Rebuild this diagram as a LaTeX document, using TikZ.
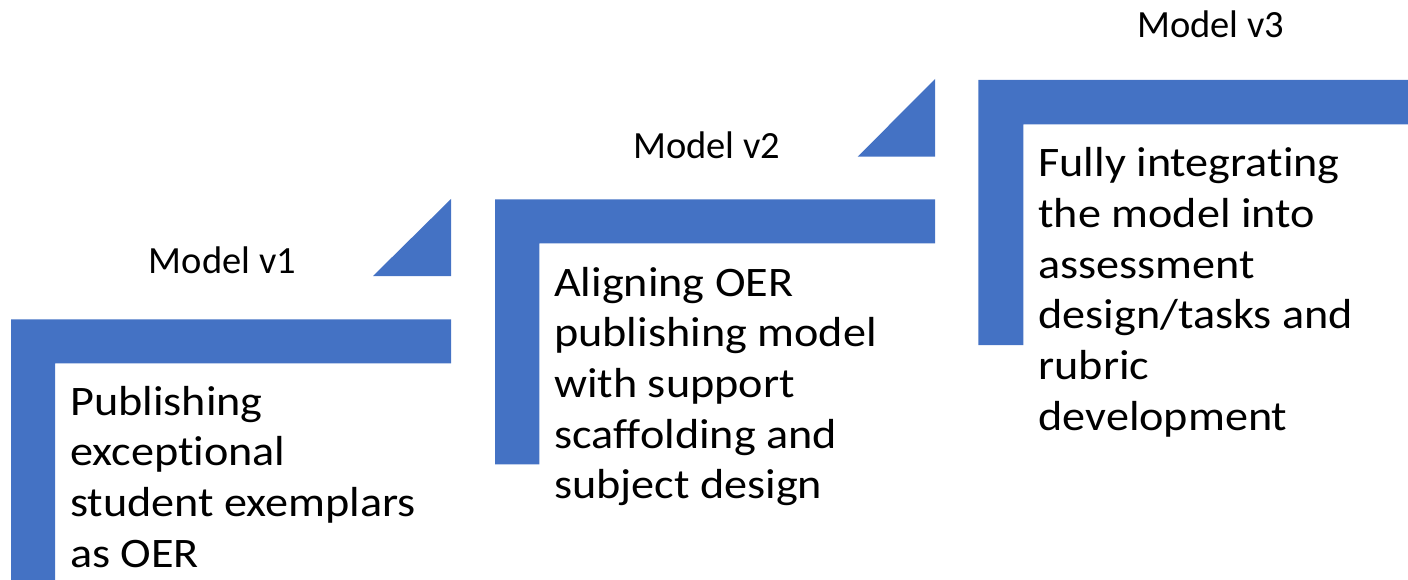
\documentclass[tikz,border=0pt]{standalone}
\usepackage{fontspec}
\setmainfont{Carlito}[Ligatures=NoCommon]
\newfontfamily\bodyfont{Carlito}[FakeStretch=1.1,Ligatures=NoCommon]
\definecolor{stepblue}{HTML}{4472C4}
\begin{document}
\begin{tikzpicture}[x=1pt,y=-1pt,
  stepfill/.style={fill=stepblue,draw=none},
  levellabel/.style={anchor=base,inner sep=0pt,font=\fontsize{38.5}{45}\selectfont},
  stepbody/.style={anchor=base west,inner sep=0pt,align=left,font=\bodyfont\fontsize{42}{50.7}\selectfont}]
  \useasboundingbox (0,0) rectangle (1408,580);
  \clip (0,0) rectangle (1408,580);

  % step 1 (the body anchor sits on the last line's baseline)
  \fill[stepfill] (11,319.3) -- (451,319.3) -- (451,363.3) -- (55,363.3) -- (55,590) -- (11,590) -- cycle;
  \fill[stepfill] (451,199) -- (451,276) -- (373,276) -- cycle;
  \node[levellabel] (v1) at (222.5,273) {Model v1};
  \node[stepbody] (t1) at (70,567.1) {Publishing\\exceptional\\student exemplars\\as OER};

  % step 2
  \fill[stepfill] (495,199.3) -- (935,199.3) -- (935,243.3) -- (539.3,243.3) -- (539.3,464.3) -- (495,464.3) -- cycle;
  \fill[stepfill] (935,79) -- (935,156.7) -- (857.7,156.7) -- cycle;
  \node[levellabel] (v2) at (706.7,158.3) {Model v2};
  \node[stepbody] (t2) at (554,498.8) {Aligning OER\\publishing model\\with support\\scaffolding and\\subject design};

  % step 3
  \fill[stepfill] (978.3,80) -- (1420,80) -- (1420,124.3) -- (1023.3,124.3) -- (1023.3,345) -- (978.3,345) -- cycle;
  \node[levellabel] (v3) at (1210.8,37.7) {Model v3};
  \node[stepbody] (t3) at (1038.3,430.2) {Fully integrating\\the model into\\assessment\\design/tasks and\\rubric\\development};
\end{tikzpicture}
\end{document}
